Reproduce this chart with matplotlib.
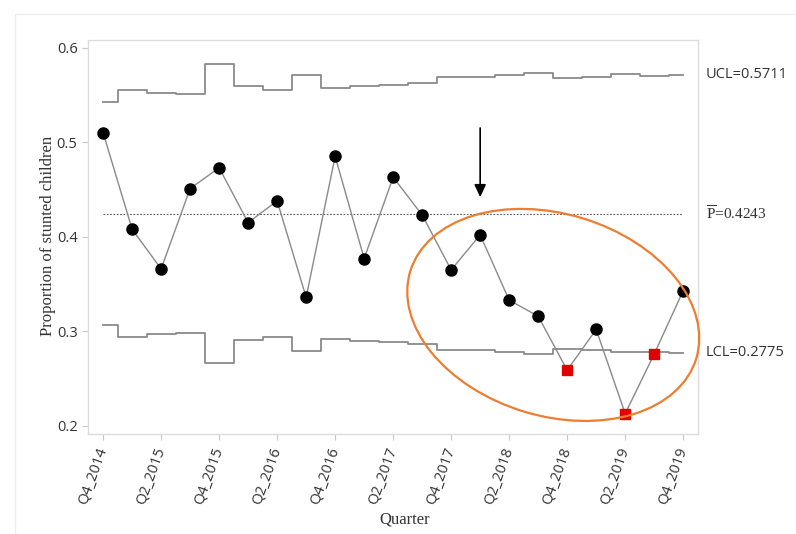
import matplotlib
matplotlib.use("Agg")
import matplotlib.pyplot as plt
import matplotlib.transforms as mtransforms
from matplotlib.patches import Ellipse, Rectangle
import numpy as np

# quarters Q4_2014 .. Q4_2019
quarters = ["Q4_2014", "Q1_2015", "Q2_2015", "Q3_2015", "Q4_2015", "Q1_2016", "Q2_2016",
            "Q3_2016", "Q4_2016", "Q1_2017", "Q2_2017", "Q3_2017", "Q4_2017", "Q1_2018",
            "Q2_2018", "Q3_2018", "Q4_2018", "Q1_2019", "Q2_2019", "Q3_2019", "Q4_2019"]
proportion = [0.510, 0.408, 0.366, 0.451, 0.473, 0.415, 0.438, 0.336, 0.485, 0.377, 0.463,
              0.423, 0.365, 0.402, 0.333, 0.316, 0.259, 0.302, 0.213, 0.276, 0.343]
ucl = [0.5426, 0.5553, 0.5518, 0.5507, 0.5827, 0.5592, 0.5553, 0.5711, 0.5571, 0.5595, 0.5600,
       0.5630, 0.5687, 0.5687, 0.5708, 0.5729, 0.5676, 0.5693, 0.5719, 0.5704, 0.5711]
lcl = [0.3068, 0.2944, 0.2976, 0.2986, 0.2669, 0.2906, 0.2944, 0.2790, 0.2920, 0.2899, 0.2891,
       0.2867, 0.2804, 0.2804, 0.2786, 0.2764, 0.2817, 0.2804, 0.2782, 0.2786, 0.2775]
p_bar = 0.4243
flagged = [16, 18, 19]  # points below LCL
arrow_at = 13

x = np.arange(len(quarters))
y = np.array(proportion)

plt.rcParams['font.family'] = ['Open Sans', 'DejaVu Sans']
plt.rcParams['font.size'] = 10
plt.rcParams['mathtext.fontset'] = 'custom'
plt.rcParams['mathtext.rm'] = 'Liberation Serif'

fig = plt.figure(figsize=(7.96, 5.34), dpi=100)
ax = fig.add_axes([0.1106, 0.1873, 0.7659, 0.7378])

# faint outer frame
fig.patches.append(Rectangle((15/796, -0.1), 2, 1 - 14/534 + 0.1, transform=fig.transFigure,
                             fill=False, edgecolor='#ededed', lw=1))

ax.step(x, ucl, where='mid', color='#8a8a8a', lw=1.3)
ax.step(x, lcl, where='mid', color='#8a8a8a', lw=1.3)
ax.plot([x[0], x[-1]], [p_bar, p_bar], color='#555555', ls=(0, (1.5, 1.5)), lw=0.8)

ax.plot(x, y, color='#8a8a8a', lw=1, zorder=3)
normal = [i for i in x if i not in flagged]
ax.plot(x[normal], y[normal], 'o', color='black', ms=8, zorder=4)
ax.plot(x[flagged], y[flagged], 's', color='#e00000', ms=6.5, zorder=4)

ax.annotate('', xy=(arrow_at, 0.439), xytext=(arrow_at, 0.518),
            arrowprops=dict(arrowstyle='-|>,head_width=0.35,head_length=0.75', color='black', lw=1.2))

# orange ellipse around the last points
trans = fig.dpi_scale_trans + mtransforms.ScaledTranslation(15.52, 0.3174, ax.transData)
ax.add_patch(Ellipse((0, 0), 2.99, 2.02, angle=-17, transform=trans, fill=False,
                     edgecolor='#ed7d31', lw=1.6, clip_on=False, zorder=5))

ax.set_xlim(-0.52, 20.5)
ax.set_ylim(0.1915, 0.6081)
ax.set_yticks([0.2, 0.3, 0.4, 0.5, 0.6])
ax.set_xticks(x[::2])
ax.set_xticklabels(quarters[::2], rotation=70, ha='right', va='center', rotation_mode='anchor')
ax.tick_params(axis='both', colors='#c8c8c8', labelcolor='#333333', labelsize=10.5, length=4, width=0.8)
ax.tick_params(axis='x', pad=6)
for s in ax.spines.values():
    s.set_color('#dcdcdc')
    s.set_linewidth(1)

tr = mtransforms.blended_transform_factory(ax.transAxes, ax.transData)
ax.text(1.013, ucl[-1], "UCL=0.5711", transform=tr, va='center', ha='left', fontsize=10.5, color='#333333')
ax.text(1.013, lcl[-1], "LCL=0.2775", transform=tr, va='center', ha='left', fontsize=10.5, color='#333333')
ax.text(1.013, p_bar, r"$\overline{\mathrm{P}}$=0.4243", transform=tr, va='center', ha='left',
        fontsize=11, color='#333333', family=['Liberation Serif', 'DejaVu Serif'])

fig.text(48/796, 1 - 236/534, "Proportion of stunted children", rotation=90, ha='center', va='center',
         fontsize=12, color='#333333', family=['Liberation Serif', 'DejaVu Serif'])
fig.text(405/796, 1 - 519/534, "Quarter", ha='center', va='center',
         fontsize=12, color='#333333', family=['Liberation Serif', 'DejaVu Serif'])

fig.savefig("out.png", dpi=100)
